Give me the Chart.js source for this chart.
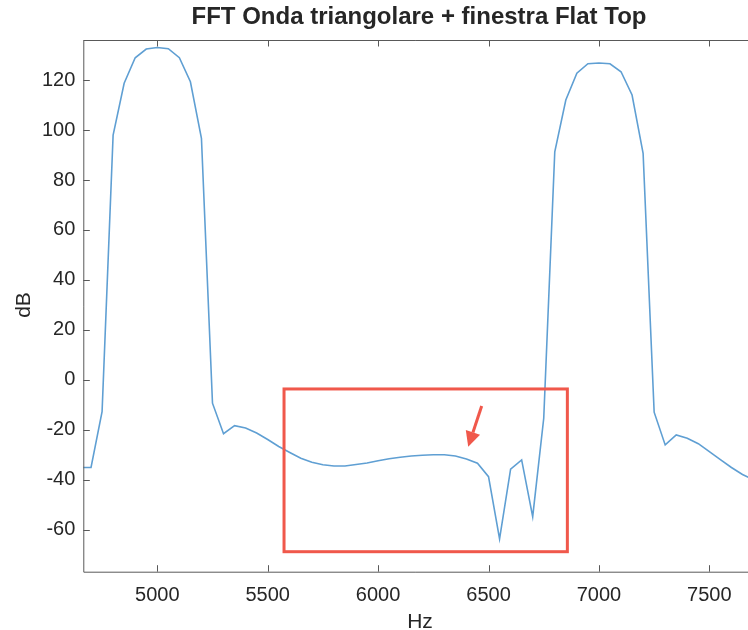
<!DOCTYPE html>
<html>
<head>
<meta charset="utf-8">
<script src="https://cdn.jsdelivr.net/npm/chart.js@4.4.1/dist/chart.umd.min.js"></script>
<style>
html, body { margin: 0; padding: 0; background: #fff; }
#wrap { width: 748px; height: 630px; }
</style>
</head>
<body>
<div id="wrap"><canvas id="fftChart" width="748" height="630"></canvas></div>
<script>
// campioni FFT (passo 50 Hz)
const freqHz = [4650, 4700, 4750, 4800, 4850, 4900, 4950, 5000, 5050, 5100,
    5150, 5200, 5250, 5300, 5350, 5400, 5450, 5500, 5550, 5600,
    5650, 5700, 5750, 5800, 5850, 5900, 5950, 6000, 6050, 6100,
    6150, 6200, 6250, 6300, 6350, 6400, 6450, 6500, 6550, 6600,
    6650, 6700, 6750, 6800, 6850, 6900, 6950, 7000, 7050, 7100,
    7150, 7200, 7250, 7300, 7350, 7400, 7450, 7500, 7550, 7600,
    7650, 7700];
const levelDb = [-35, -35, -12.7, 98, 118.7, 128.9, 132.4, 133, 132.5, 128.9,
    119.3, 96.7, -9.3, -21.5, -18.3, -19.2, -21.2, -23.8, -26.6, -29.0,
    -31.3, -32.9, -33.9, -34.4, -34.4, -33.8, -33.2, -32.3, -31.5, -30.9,
    -30.4, -30.1, -29.9, -29.9, -30.4, -31.6, -33.3, -38.7, -63.6, -35.7,
    -32, -54.7, -15.3, 91.3, 112, 122.7, 126.5, 126.8, 126.5, 123.3,
    114, 90.7, -12.9, -26, -22, -23.3, -25.5, -28.7, -31.9, -35,
    -37.8, -40];

const xTicks = [5000, 5500, 6000, 6500, 7000, 7500];
const yTicks = [-60, -40, -20, 0, 20, 40, 60, 80, 100, 120];

// riquadro rosso e freccia (in coordinate dati)
const boxHz = [5574, 6857];
const boxDb = [-68.7, -3.6];
const arrowHz = [6469, 6408];
const arrowDb = [-10.4, -26.7];

const axisColor = '#595959';
const textColor = '#262626';
const fontFamily = "'Liberation Sans', Arial, sans-serif";

const points = freqHz.map((f, i) => ({ x: f, y: levelDb[i] }));

const drawFrame = {
    id: 'drawFrame',
    afterDatasetsDraw(chart) {
        const { ctx, chartArea: a, scales: { x, y } } = chart;
        ctx.save();

        // riquadro rosso
        ctx.strokeStyle = '#f0584b';
        ctx.lineWidth = 3;
        const bx0 = x.getPixelForValue(boxHz[0]);
        const bx1 = x.getPixelForValue(boxHz[1]);
        const by0 = y.getPixelForValue(boxDb[1]);
        const by1 = y.getPixelForValue(boxDb[0]);
        ctx.strokeRect(bx0, by0, bx1 - bx0, by1 - by0);

        // freccia
        const ax0 = x.getPixelForValue(arrowHz[0]);
        const ay0 = y.getPixelForValue(arrowDb[0]);
        const ax1 = x.getPixelForValue(arrowHz[1]);
        const ay1 = y.getPixelForValue(arrowDb[1]);
        const ang = Math.atan2(ay1 - ay0, ax1 - ax0);
        const head = 15, half = 7.5;
        const hx = ax1 - head * Math.cos(ang);
        const hy = ay1 - head * Math.sin(ang);
        ctx.beginPath();
        ctx.moveTo(ax0, ay0);
        ctx.lineTo(hx, hy);
        ctx.stroke();
        ctx.fillStyle = '#f0584b';
        ctx.beginPath();
        ctx.moveTo(ax1, ay1);
        ctx.lineTo(hx + half * Math.sin(ang), hy - half * Math.cos(ang));
        ctx.lineTo(hx - half * Math.sin(ang), hy + half * Math.cos(ang));
        ctx.closePath();
        ctx.fill();

        // assi
        ctx.strokeStyle = axisColor;
        ctx.lineWidth = 1;
        ctx.beginPath();
        ctx.moveTo(a.left + 0.5, a.top + 0.5);
        ctx.lineTo(a.right, a.top + 0.5);
        ctx.moveTo(a.left + 0.5, a.top);
        ctx.lineTo(a.left + 0.5, a.bottom + 0.5);
        ctx.lineTo(a.right, a.bottom + 0.5);
        const tl = 6.5;
        xTicks.forEach(v => {
            const px = Math.round(x.getPixelForValue(v)) + 0.5;
            ctx.moveTo(px, a.bottom);
            ctx.lineTo(px, a.bottom - tl);
            ctx.moveTo(px, a.top);
            ctx.lineTo(px, a.top + tl);
        });
        yTicks.forEach(v => {
            const py = Math.round(y.getPixelForValue(v)) + 0.5;
            ctx.moveTo(a.left, py);
            ctx.lineTo(a.left + tl, py);
        });
        ctx.stroke();

        // titoli
        ctx.fillStyle = textColor;
        ctx.textAlign = 'center';
        ctx.textBaseline = 'alphabetic';
        ctx.font = 'bold 24px ' + fontFamily;
        ctx.fillText('FFT Onda triangolare + finestra Flat Top', 419, 24);
        ctx.font = '21px ' + fontFamily;
        ctx.fillText('Hz', 420, 628);
        ctx.translate(30, 305);
        ctx.rotate(-Math.PI / 2);
        ctx.fillText('dB', 0, 0);
        ctx.restore();
    }
};

const chart = new Chart(document.getElementById('fftChart'), {
    type: 'line',
    data: {
        datasets: [{
            data: points,
            borderColor: '#5f9fd3',
            borderWidth: 1.6,
            pointRadius: 0,
            tension: 0,
            fill: false
        }]
    },
    options: {
        responsive: false,
        animation: false,
        layout: { padding: { top: 40, left: 0, right: 0, bottom: 0 } },
        plugins: {
            legend: { display: false },
            tooltip: { enabled: false },
            title: { display: false }
        },
        scales: {
            x: {
                type: 'linear',
                min: 4665,
                max: 7675,
                afterBuildTicks: s => { s.ticks = xTicks.map(v => ({ value: v })); },
                afterFit: s => { s.height = 58.3; },
                grid: { display: false, drawTicks: false },
                border: { display: false },
                ticks: {
                    padding: 12,
                    maxRotation: 0,
                    color: textColor,
                    font: { family: fontFamily, size: 20 },
                    callback: v => String(v)
                }
            },
            y: {
                min: -76.7,
                max: 136,
                afterBuildTicks: s => { s.ticks = yTicks.map(v => ({ value: v })); },
                afterFit: s => { s.width = 83.3; },
                grid: { display: false, drawTicks: false },
                border: { display: false },
                ticks: {
                    padding: 8,
                    color: textColor,
                    font: { family: fontFamily, size: 20 },
                    callback: v => String(v)
                }
            }
        }
    },
    plugins: [drawFrame]
});
</script>
</body>
</html>
